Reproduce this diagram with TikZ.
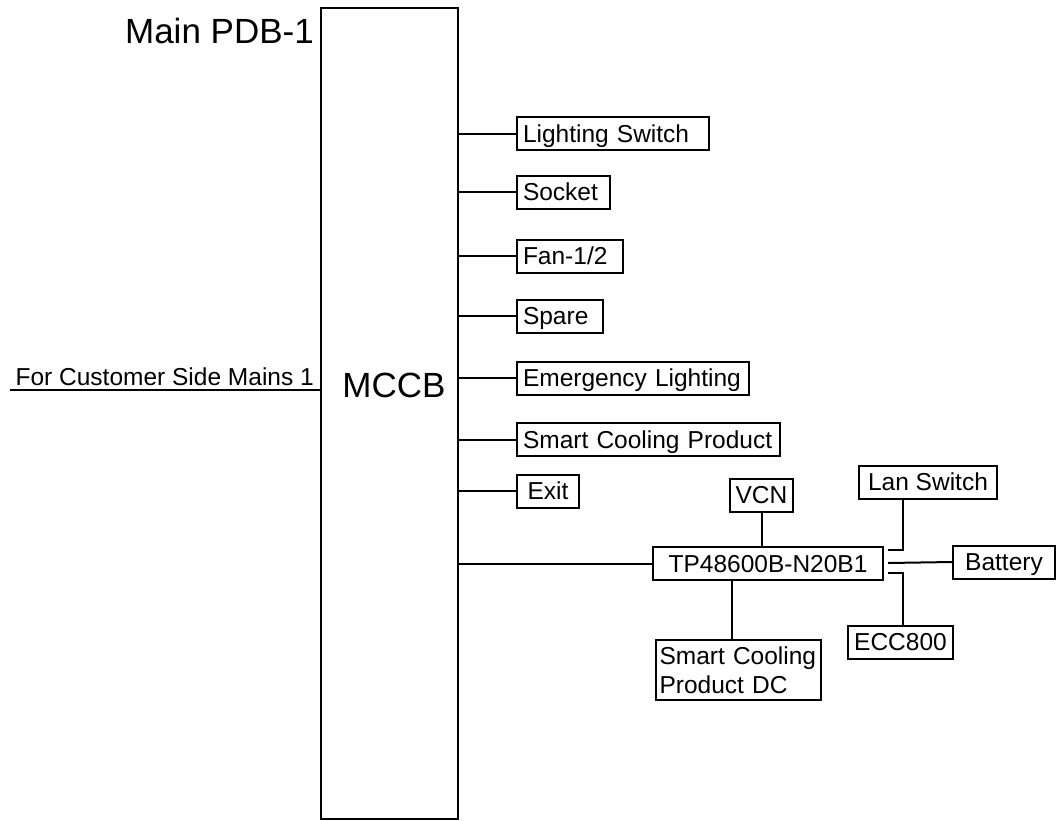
\documentclass[tikz,border=0pt]{standalone}
\usepackage{fontspec}
\setmainfont{Liberation Sans}

\tikzset{
  wire/.style={line width=2pt},
  loadbox/.style={draw, line width=2pt, anchor=west, font=\fontsize{24.5}{28}\selectfont,
    minimum height=33pt, inner xsep=6pt, inner ysep=2pt, text height=19.5pt, text depth=2.5pt, align=left},
  unitbox/.style={draw, line width=2pt, font=\fontsize{24.5}{28}\selectfont,
    minimum height=33pt, inner xsep=5pt, inner ysep=2pt, text height=19.5pt, text depth=2.5pt, align=center},
  bigtext/.style={font=\fontsize{35}{40}\selectfont, inner sep=0pt},
}

\begin{document}
\begin{tikzpicture}[x=1pt, y=-1pt]
        \useasboundingbox (0,0) rectangle (1063,820);
        % breaker panel
        \node[draw, line width=2pt, minimum width=137pt, minimum height=811pt, inner sep=0pt] (mccb) at (389.5,413.5) {};
        \node[bigtext, anchor=base] (mccbtxt) at (394,397) {MCCB};
        \node[bigtext, anchor=base east] (pdb) at (314,43) {Main PDB-1};
        % incoming mains
        \coordinate (mainsin) at (10,390);
        \node[font=\fontsize{24.5}{28}\selectfont, inner sep=0pt, anchor=base east] (mainstxt) at (314,385) {For Customer Side Mains 1};
        \draw[wire] (mainsin) -- (mainsin -| mccb.west);
        % outgoing loads
        \node[loadbox, text width=180pt] (ls) at (516,133.5) {Lighting Switch};
        \node[loadbox, text width=81pt] (sock) at (516,192) {Socket};
        \node[loadbox, text width=94pt] (fan) at (516,256) {Fan-1/2};
        \node[loadbox, text width=74pt] (spare) at (516,316) {Spare};
        \node[loadbox, text width=220pt] (emlight) at (516,378) {Emergency Lighting};
        \node[loadbox, text width=251pt] (scp) at (516,439.5) {Smart Cooling Product};
        \node[loadbox, text width=50pt, align=center] (exit) at (516,491) {Exit};
        \foreach \ld in {ls,sock,fan,spare,emlight,scp,exit}
          \draw[wire] (mccb.east |- \ld.west) -- (\ld.west);
        % DC power system
        \node[unitbox, minimum width=230pt] (tp) at (768,563.5) {TP48600B-N20B1};
        \node[unitbox, minimum width=63pt] (vcn) at (761.5,495) {VCN};
        \node[unitbox, minimum width=138pt] (lan) at (928,482) {Lan Switch};
        \node[unitbox, minimum width=102pt] (bat) at (1004,562) {Battery};
        \node[unitbox, minimum width=105pt] (ecc) at (900.5,642) {ECC800};
        \node[draw, line width=2pt, font=\fontsize{24.5}{29}\selectfont, minimum width=165pt, minimum height=60pt,
          inner xsep=3.5pt, inner ysep=2pt, text width=158pt, align=left] (scdc) at (738.5,670) {Smart Cooling\\Product DC};
        \draw[wire] (mccb.east |- tp.west) -- (tp.west);
        \draw[wire] (vcn.south) -- (vcn.south |- tp.north);
        \coordinate (lanend) at (888,550);
        \coordinate (batend) at (888,563);
        \coordinate (eccend) at (888,573);
        \draw[wire] (lanend) -| ([xshift=-25pt]lan.south);
        \draw[wire] (batend) -- (bat.west);
        \draw[wire] (eccend) -| ([xshift=2.5pt]ecc.north);
        \draw[wire] ([xshift=-6.5pt]scdc.north) -- ([xshift=-6.5pt]scdc.north |- tp.south);
    \end{tikzpicture}
\end{document}
